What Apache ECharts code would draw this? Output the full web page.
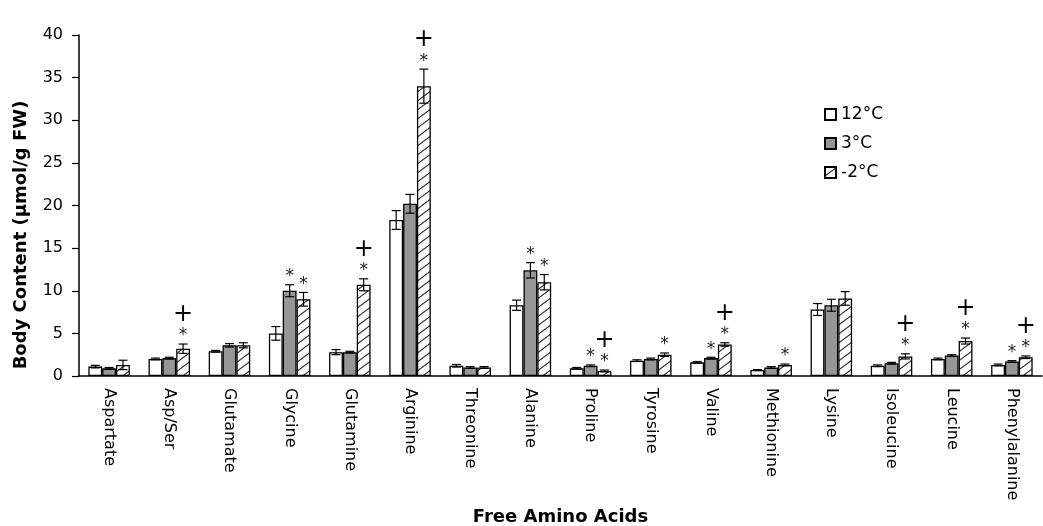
<!DOCTYPE html>
<html><head><meta charset="utf-8">
<script src="https://cdn.jsdelivr.net/npm/echarts@6/dist/echarts.min.js"></script>
<style>html,body{margin:0;padding:0;background:#fff}#c{width:1043px;height:526px}</style>
</head><body><div id="c"></div>
<script>
const categories = ['Aspartate','Asp/Ser','Glutamate','Glycine','Glutamine','Arginine','Threonine','Alanine','Proline','Tyrosine','Valine','Methionine','Lysine','Isoleucine','Leucine','Phenylalanine'];
const seriesNames = ['12°C','3°C','-2°C'];
const val12 = [1.1, 2.0, 2.9, 5.0, 2.8, 18.3, 1.2, 8.3, 0.9, 1.8, 1.6, 0.7, 7.8, 1.2, 2.0, 1.3];
const val3  = [0.9, 2.1, 3.6, 10.0, 2.8, 20.2, 1.0, 12.4, 1.2, 2.0, 2.1, 1.0, 8.3, 1.5, 2.4, 1.7];
const valM2 = [1.3, 3.2, 3.6, 9.0, 10.7, 34.0, 1.0, 11.0, 0.6, 2.5, 3.7, 1.3, 9.1, 2.3, 4.1, 2.2];
const err12 = [0.15, 0.1, 0.1, 0.8, 0.3, 1.1, 0.15, 0.6, 0.1, 0.1, 0.1, 0.05, 0.7, 0.1, 0.1, 0.1];
const err3  = [0.1, 0.1, 0.2, 0.7, 0.1, 1.1, 0.1, 0.9, 0.1, 0.1, 0.1, 0.1, 0.7, 0.1, 0.1, 0.1];
const errM2 = [0.55, 0.55, 0.3, 0.8, 0.7, 2.0, 0.1, 0.9, 0.1, 0.2, 0.2, 0.1, 0.8, 0.3, 0.35, 0.15];
const mark12 = ['','','','','','','','','','','','','','','',''];
const mark3  = ['','','','*','','','','*','*','','*','','','','','*'];
const markM2 = ['','*+','','*','*+','*+','','*','*+','*','*+','*','','*+','*+','*+'];
const yTicks = {min: 0, max: 40, interval: 5};

const FONT = '"DejaVu Sans", sans-serif';
const GAP = 0.31;

function hatch() {
  const w = 12, h = 9;
  const c = document.createElement('canvas');
  c.width = w; c.height = h;
  const g = c.getContext('2d');
  g.fillStyle = '#fff'; g.fillRect(0, 0, w, h);
  g.strokeStyle = '#333'; g.lineWidth = 1.1;
  for (let k = -1; k <= 1; k++) {
    g.beginPath();
    g.moveTo(-w, 2 * h + k * h);
    g.lineTo(2 * w, -h + k * h);
    g.stroke();
  }
  return c;
}

const fills = ['#ffffff', '#969696', {image: hatch(), repeat: 'repeat'}];
const vals = [val12, val3, valM2];
const errs = [err12, err3, errM2];
const marks = [mark12, mark3, markM2];

function barSeries(k) {
  return {
    type: 'bar', name: seriesNames[k], data: vals[k],
    barGap: '0%', barCategoryGap: (GAP * 100) + '%',
    itemStyle: {color: fills[k], borderColor: '#000', borderWidth: 1.3},
    emphasis: {disabled: true}
  };
}

function errSeries(k) {
  return {
    type: 'custom', name: 'err' + k, silent: true, z: 10,
    data: vals[k].map((v, i) => [i, v, errs[k][i]]),
    encode: {x: 0, y: 1},
    renderItem: function (params, api) {
      const i = api.value(0), v = api.value(1), e = api.value(2);
      const band = api.size([1, 0])[0];
      const bw = band * (1 - GAP) / 3;
      const x = api.coord([i, v])[0] + (k - 1) * bw;
      const yT = api.coord([i, v + e])[1];
      const yB = api.coord([i, Math.max(v - e, 0)])[1];
      const hc = 4.5;
      const st = {stroke: '#000', lineWidth: 1.2};
      const ch = [
        {type: 'line', shape: {x1: x, y1: yT, x2: x, y2: yB}, style: st},
        {type: 'line', shape: {x1: x - hc, y1: yT, x2: x + hc, y2: yT}, style: st},
        {type: 'line', shape: {x1: x - hc, y1: yB, x2: x + hc, y2: yB}, style: st}
      ];
      const m = marks[k][params.dataIndex] || '';
      let y = yT - 8;
      if (m.indexOf('*') >= 0) {
        ch.push({type: 'text', style: {text: '*', x: x, y: y, align: 'center', verticalAlign: 'middle', font: '17px ' + FONT, fill: '#222'}});
        y -= 21;
      }
      if (m.indexOf('+') >= 0) {
        ch.push({type: 'text', style: {text: '+', x: x, y: y, align: 'center', verticalAlign: 'middle', font: '24px ' + FONT, fill: '#000'}});
      }
      return {type: 'group', children: ch};
    }
  };
}

const chart = echarts.init(document.getElementById('c'), null, {renderer: 'canvas'});
chart.setOption({
  animation: false,
  backgroundColor: '#fff',
  grid: {left: 79, right: 1, top: 35, bottom: 150, containLabel: false, outerBoundsMode: 'none'},
  legend: {
    orient: 'vertical', left: 824, top: 106, padding: 0,
    data: seriesNames, icon: 'rect',
    itemWidth: 11, itemHeight: 11, itemGap: 12,
    textStyle: {fontSize: 17, fontFamily: FONT, color: '#000'}
  },
  xAxis: {
    type: 'category', data: categories,
    axisLine: {lineStyle: {color: '#000', width: 1.5}},
    axisTick: {length: 6, lineStyle: {color: '#000', width: 1.2}},
    axisLabel: {rotate: -90, margin: 12, interval: 0, fontSize: 16, fontFamily: FONT, color: '#000'},
    name: 'Free Amino Acids', nameLocation: 'middle', nameGap: 132,
    nameTextStyle: {fontSize: 18, fontWeight: 'bold', fontFamily: FONT, color: '#000'}
  },
  yAxis: {
    type: 'value', min: yTicks.min, max: yTicks.max, interval: yTicks.interval,
    splitLine: {show: false},
    axisLine: {show: true, lineStyle: {color: '#000', width: 1.5}},
    axisTick: {show: true, length: 7, lineStyle: {color: '#000', width: 1.2}},
    axisLabel: {margin: 16, fontSize: 16, fontFamily: FONT, color: '#000'}
  },
  graphic: [{
    type: 'text', x: 21, y: 235, rotation: Math.PI / 2,
    style: {text: 'Body Content (µmol/g FW)', font: 'bold 18px ' + FONT, align: 'center', verticalAlign: 'middle', fill: '#000'}
  }],
  series: [barSeries(0), barSeries(1), barSeries(2), errSeries(0), errSeries(1), errSeries(2)]
});
</script></body></html>
